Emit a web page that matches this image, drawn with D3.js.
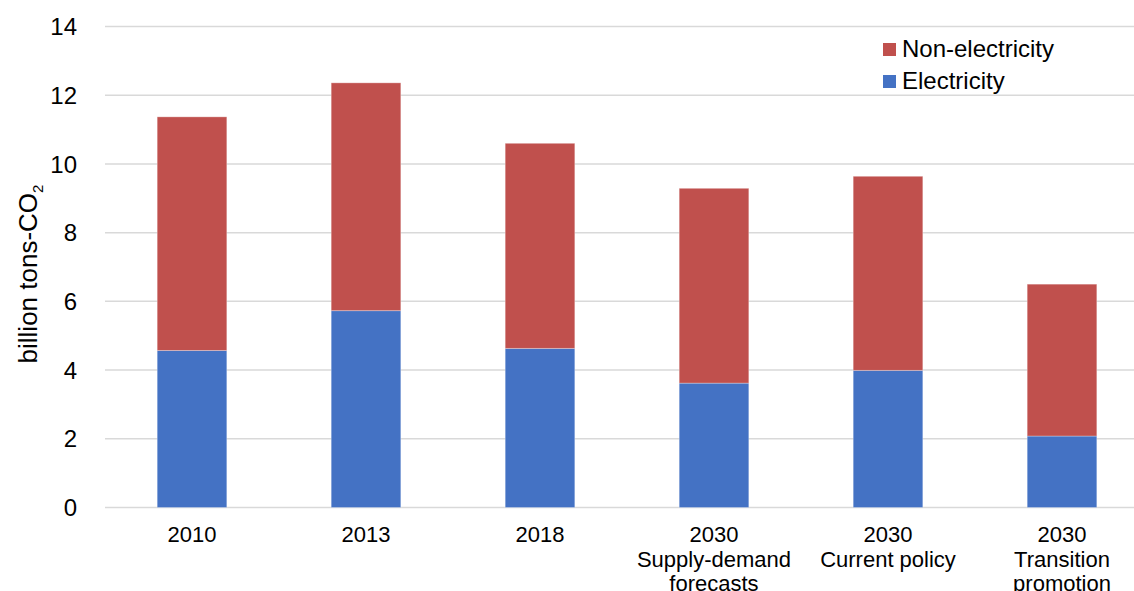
<!DOCTYPE html>
<html lang="en">
<head>
<meta charset="UTF-8">
<title>CO2 emissions</title>
<style>
  body { margin: 0; background: #fff; }
  svg { display: block; font-family: 'Liberation Sans', Arial, sans-serif; }
  .grid line { stroke: #d9d9d9; stroke-width: 1.5; }
  .tick-label { font-size: 24px; fill: #000; }
  .x-label { font-size: 22px; fill: #000; }
  .legend text { font-size: 24px; fill: #000; }
</style>
</head>
<body>
<svg id="chart" width="1134" height="591"></svg>
<script src="https://d3js.org/d3.v7.min.js"></script>
<script>
// data
const categories = [
  ["2010"],
  ["2013"],
  ["2018"],
  ["2030", "Supply-demand", "forecasts"],
  ["2030", "Current policy"],
  ["2030", "Transition", "promotion"]
];
const electricity    = [4.57, 5.73, 4.63, 3.62, 3.99, 2.08];
const nonElectricity = [6.80, 6.63, 5.97, 5.67, 5.65, 4.42];
const yTicks = [0, 2, 4, 6, 8, 10, 12, 14];

const series = [
  { name: "Electricity", values: electricity, color: "#4472C4" },
  { name: "Non-electricity", values: nonElectricity, color: "#C0504D" }
];

const svg = d3.select("#chart");

const x = d3.scaleBand()
  .domain(d3.range(categories.length))
  .range([105, 1149])
  .paddingInner(0.6)
  .paddingOuter(0.3);

const y = d3.scaleLinear().domain([0, 14]).range([507.5, 26.5]);

// gridlines
svg.append("g").attr("class", "grid")
  .selectAll("line")
  .data(yTicks)
  .join("line")
  .attr("x1", 105).attr("x2", 1149)
  .attr("y1", d => y(d)).attr("y2", d => y(d));

// y tick labels
svg.append("g")
  .selectAll("text")
  .data(yTicks)
  .join("text")
  .attr("class", "tick-label")
  .attr("x", 77)
  .attr("y", d => y(d))
  .attr("dy", "0.36em")
  .attr("text-anchor", "end")
  .text(d => d);

// y axis title
const yTitle = svg.append("text")
  .attr("transform", "translate(37,274) rotate(-90)")
  .attr("text-anchor", "middle")
  .style("font-size", "26px");
yTitle.append("tspan").text("billion tons-CO");
yTitle.append("tspan").attr("dy", 6).style("font-size", "15px").text("2");

// stacked bars
const stacked = categories.map((c, i) => {
  let base = 0;
  return series.map(s => {
    const seg = { i, y0: base, y1: base + s.values[i], color: s.color };
    base += s.values[i];
    return seg;
  });
}).flat();

svg.append("g")
  .selectAll("rect")
  .data(stacked)
  .join("rect")
  .attr("x", d => x(d.i))
  .attr("width", x.bandwidth())
  .attr("y", d => y(d.y1))
  .attr("height", d => y(d.y0) - y(d.y1))
  .attr("fill", d => d.color)
  .attr("stroke", "rgba(255,255,255,0.3)")
  .attr("stroke-width", 1);

// x labels
const xl = svg.append("g")
  .selectAll("text")
  .data(categories)
  .join("text")
  .attr("class", "x-label")
  .attr("text-anchor", "middle")
  .attr("x", (d, i) => x(i) + x.bandwidth() / 2)
  .attr("y", 542);
xl.selectAll("tspan")
  .data(d => d)
  .join("tspan")
  .attr("x", function () { return this.parentNode.getAttribute("x"); })
  .attr("dy", (d, j) => j === 0 ? 0 : 24.5)
  .text(d => d);

// legend
const legendItems = [series[1], series[0]];
const lg = svg.append("g").attr("class", "legend")
  .selectAll("g")
  .data(legendItems)
  .join("g")
  .attr("transform", (d, i) => `translate(883,${43 + i * 32})`);
lg.append("rect")
  .attr("width", 13).attr("height", 13)
  .attr("fill", d => d.color);
lg.append("text")
  .attr("x", 19).attr("y", 14)
  .text(d => d.name);
</script>
</body>
</html>
